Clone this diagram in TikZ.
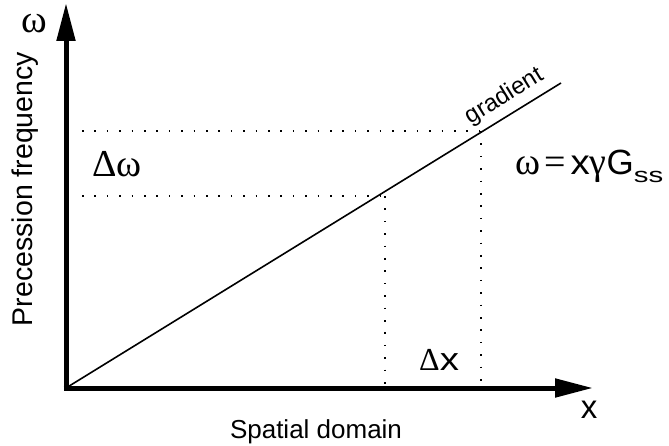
\documentclass[tikz,border=0pt]{standalone}
\usepackage{fontspec}
\setmainfont{Liberation Sans}
\newfontfamily\grk{Liberation Serif}
\usetikzlibrary{arrows.meta}
\newcommand{\fs}[1]{\fontsize{#1}{#1}\selectfont}
\begin{document}
\begin{tikzpicture}[x=1pt,y=-1pt,
  axis/.style={line width=5pt,-{Triangle[length=38pt,width=18pt]}},
  dotline/.style={line width=1.6pt,dash pattern=on 1.6pt off 10.8pt},
  lbl/.style={inner sep=0pt,anchor=base}]
\useasboundingbox (0,0) rectangle (669,446);
\coordinate (O) at (66,388);
\coordinate (Ytop) at (66,3);
\coordinate (Xend) at (593,388);
\coordinate (Gend) at (561,83);
\coordinate (H1a) at (82,131);
\coordinate (H1b) at (480,131);
\coordinate (H2a) at (82,196);
\coordinate (H2b) at (385,196);
\coordinate (V1b) at (385,386);
\coordinate (V2a) at (481,131);
\coordinate (V2b) at (481,386);
\draw[dotline] (H1a) -- (H1b);
\draw[dotline] (H2a) -- (H2b);
\draw[dotline] (H2b) -- (V1b);
\draw[dotline] (V2a) -- (V2b);
\draw[line width=1.6pt] (O) -- (Gend)
  node[pos=0.905,sloped,above=6pt,inner sep=0pt] (gr) {\fs{24}gradient};
\draw[axis] (O) -- (Ytop);
\draw[axis] ([xshift=-2.5pt]O) -- (Xend);
\node[lbl] (w) at (34.5,33) {\fs{39}\grk ω};
\node[lbl] (xl) at (589,418) {\fs{33}x};
\node[inner sep=0pt,rotate=90] (pf) at (25.5,189) {\fs{28.5}Precession frequency};
\node[lbl] (sd) at (316,438) {\fs{26}Spatial domain};
\node[lbl,anchor=base west] (dw) at (92,177) {\fs{38}\grk Δω};
\node[lbl,anchor=base west] (dx) at (419,370) {\fs{32}{\grk Δ}\scalebox{1.2}[1]{x}};
\node[lbl,anchor=base west] (eq) at (515,175) {\fs{35}{\fs{38}\grk ω\hspace{4pt}=\hspace{5pt}}\scalebox{1.1}[1]{x}{\fs{38}\grk γ}G\raisebox{-8pt}{\fs{21}\scalebox{1.4}[1]{ss}}};
\end{tikzpicture}
\end{document}
